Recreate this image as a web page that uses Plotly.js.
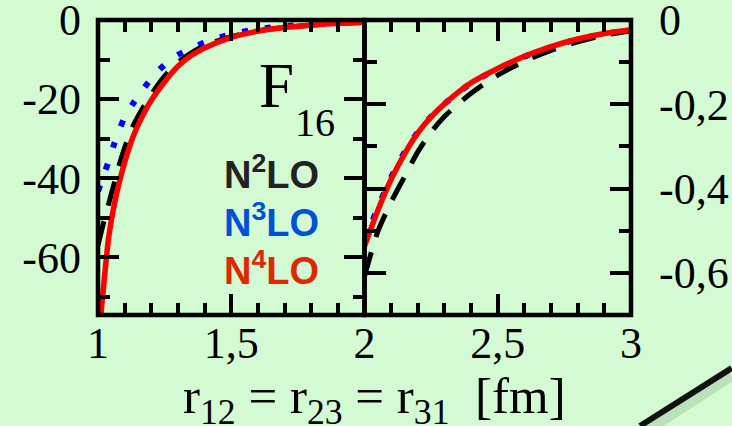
<!DOCTYPE html>
<html>
<head>
<meta charset="utf-8">
<script src="https://cdn.plot.ly/plotly-3.0.1.min.js"></script>
<style>
  html, body { margin: 0; padding: 0; background: #d3fad3; }
  #plot { width: 732px; height: 426px; }
</style>
</head>
<body>
<div id="plot"></div>
<script>
// Short-range part: r from 1 to 2 fm (left panel, left scale)
const rNear = [1.00, 1.02, 1.04, 1.06, 1.08, 1.10, 1.13, 1.16, 1.20, 1.25, 1.30, 1.35, 1.40, 1.50, 1.60, 1.70, 1.80, 1.90, 2.00];
const n2loNear = [-57, -51.5, -46.5, -41.5, -36.5, -32.3, -27, -23.2, -18.8, -14.2, -10.7, -8.3, -6.5, -4.2, -2.8, -1.9, -1.3, -0.9, -0.61];
const n3loNear = [-43.3, -39.5, -35.7, -31.5, -27.8, -24.6, -21.3, -18.4, -14.8, -11.3, -8.8, -7.2, -5.7, -3.6, -2.3, -1.6, -1.1, -0.75, -0.52];
const n4loNear = [-82, -68, -55, -47, -41, -36, -29.8, -25.2, -20.3, -15.6, -11.7, -9.0, -7.1, -4.4, -2.8, -1.9, -1.25, -0.85, -0.54];

// Long-range tail: r from 2 to 3 fm (right panel, right scale)
const rFar = [2.00, 2.05, 2.10, 2.15, 2.20, 2.25, 2.30, 2.40, 2.50, 2.60, 2.70, 2.80, 2.90, 3.00];
const n2loFar = [-0.609, -0.502, -0.432, -0.372, -0.313, -0.266, -0.229, -0.174, -0.131, -0.098, -0.072, -0.052, -0.036, -0.026];
const n3loFar = [-0.525, -0.445, -0.373, -0.314, -0.266, -0.229, -0.199, -0.150, -0.116, -0.087, -0.064, -0.046, -0.033, -0.024];
const n4loFar = [-0.537, -0.452, -0.378, -0.318, -0.268, -0.230, -0.199, -0.149, -0.115, -0.086, -0.063, -0.045, -0.032, -0.023];

// Tick labels (decimal comma)
const xNearTicks = [1, 1.5];
const xNearLabels = ['1', '1,5'];
const xFarTicks = [2, 2.5, 3];
const xFarLabels = ['2', '2,5', '3'];
const yNearTicks = [0, -20, -40, -60];
const yNearLabels = ['0', '-20', '-40', '-60'];
const yFarTicks = [0, -0.2, -0.4, -0.6];
const yFarLabels = ['0', '-0,2', '-0,4', '-0,6'];

const orders = ['N<sup>2</sup>LO', 'N<sup>3</sup>LO', 'N<sup>4</sup>LO'];

const BG = '#d3fad3';
const serif = 'Liberation Serif, Times New Roman, serif';

const styles = {
  n2lo: { color: '#000000', width: 5, dash: '25px,16px' },
  n3lo: { color: '#0000ff', width: 6, dash: '6px,17px' },
  n4lo: { color: '#ff0000', width: 5.5, dash: 'solid' }
};

function tr(x, y, st, xa, ya) {
  return { x: x, y: y, xaxis: xa, yaxis: ya, mode: 'lines', type: 'scatter',
           line: { color: st.color, width: st.width, dash: st.dash, shape: 'spline', smoothing: 0.8 },
           hoverinfo: 'skip', showlegend: false };
}

const data = [
  tr(rNear, n3loNear, styles.n3lo, 'x', 'y'),
  tr(rNear, n2loNear, styles.n2lo, 'x', 'y'),
  tr(rNear, n4loNear, styles.n4lo, 'x', 'y'),
  tr(rFar, n3loFar, styles.n3lo, 'x2', 'y2'),
  tr(rFar, n2loFar, styles.n2lo, 'x2', 'y2'),
  tr(rFar, n4loFar, styles.n4lo, 'x2', 'y2')
];

const common = {
  showgrid: false, zeroline: false, showline: false,
  mirror: 'allticks', ticks: 'inside', ticklen: 21, tickwidth: 4, tickcolor: '#000',
  tickfont: { family: serif, size: 44, color: '#000' }, ticklabeloverflow: 'allow', fixedrange: true
};

function minor(t0, dt) {
  return { tickmode: 'linear', tick0: t0, dtick: dt, ticks: 'inside', ticklen: 12, tickwidth: 4, tickcolor: '#000', showgrid: false };
}

const legendColors = ['#222222', '#0050d8', '#e02800'];
const legendY = [0.485, 0.322, 0.159];

const annotations = [
  { xref: 'paper', yref: 'paper', x: 0.298, y: 0.775, xanchor: 'left', yanchor: 'middle',
    text: 'F', showarrow: false, font: { family: serif, size: 63, color: '#000' } },
  { xref: 'paper', yref: 'paper', x: 0.3655, y: 0.652, xanchor: 'left', yanchor: 'middle',
    text: '16', showarrow: false, font: { family: serif, size: 40, color: '#000' } },
  { xref: 'paper', yref: 'paper', x: 0.519, y: -0.288, xanchor: 'center', yanchor: 'middle',
    text: 'r<sub>12</sub> = r<sub>23</sub> = r<sub>31</sub>  [fm]', showarrow: false,
    font: { family: serif, size: 51, color: '#000' } }
];
orders.forEach(function (t, i) {
  annotations.push({ xref: 'paper', yref: 'paper', x: 0.2326, y: legendY[i], xanchor: 'left', yanchor: 'middle',
    text: '<b>' + t + '</b>', showarrow: false,
    font: { family: 'Liberation Sans, Arial, sans-serif', size: 38, color: legendColors[i] } });
});

// panel frames, stroked centred on the axis ranges
function frame(xa, ya) {
  return { type: 'rect', xref: xa + ' domain', yref: ya + ' domain', x0: 0, x1: 1, y0: 0, y1: 1,
           line: { color: '#000', width: 4.5 }, fillcolor: 'rgba(0,0,0,0)', layer: 'above' };
}

const layout = {
  width: 732, height: 426,
  margin: { l: 98, r: 101, t: 20, b: 111, pad: 0 },
  paper_bgcolor: BG, plot_bgcolor: BG,
  showlegend: false,
  xaxis: Object.assign({}, common, { domain: [0, 0.5], range: [1, 2], anchor: 'y',
    tickmode: 'array', tickvals: xNearTicks, ticktext: xNearLabels, ticklabelstandoff: -2, minor: minor(1, 0.1) }),
  yaxis: Object.assign({}, common, { domain: [0, 1], range: [-74.6, 0], anchor: 'x',
    tickmode: 'array', tickvals: yNearTicks, ticktext: yNearLabels, ticklabelstandoff: 16, minor: minor(0, 10) }),
  xaxis2: Object.assign({}, common, { domain: [0.5, 1], range: [2, 3], anchor: 'y2',
    tickmode: 'array', tickvals: xFarTicks, ticktext: xFarLabels, ticklabelstandoff: -2, minor: minor(2, 0.1) }),
  yaxis2: Object.assign({}, common, { domain: [0, 1], range: [-0.7, 0], anchor: 'x2', side: 'right',
    tickmode: 'array', tickvals: yFarTicks, ticktext: yFarLabels, ticklabelstandoff: 27, minor: minor(0, 0.1) }),
  annotations: annotations,
  shapes: [
    frame('x', 'y'),
    frame('x2', 'y2'),
    // pencil stroke in the lower right corner, with its soft shadow
    { type: 'line', xref: 'paper', yref: 'paper', x0: 1.026, y0: -0.397, x1: 1.189, y1: -0.207,
      line: { color: 'rgba(100,140,100,0.22)', width: 10 } },
    { type: 'line', xref: 'paper', yref: 'paper', x0: 1.017, y0: -0.376, x1: 1.189, y1: -0.180,
      line: { color: '#111111', width: 6 } }
  ]
};

Plotly.newPlot('plot', data, layout, { staticPlot: true, displayModeBar: false });
</script>
</body>
</html>
